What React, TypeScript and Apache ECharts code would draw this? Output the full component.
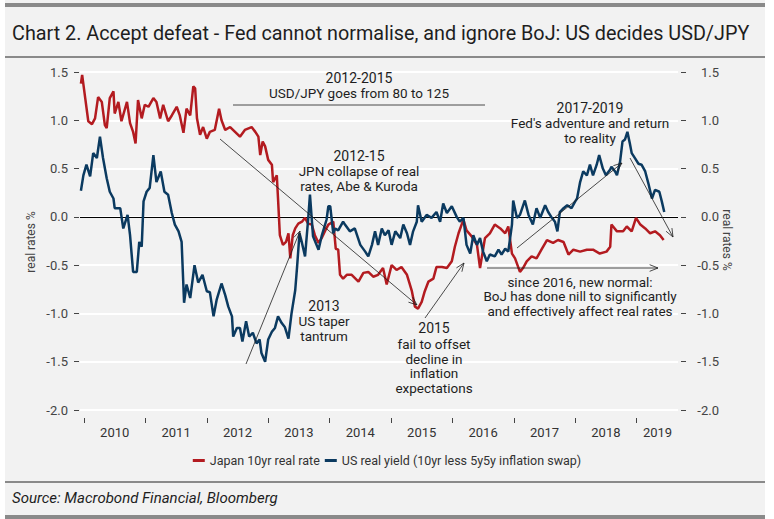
import React, { useEffect, useRef } from "react";
import * as echarts from "echarts";

// [decimal year, real rate %]
const japanRealRate: number[][] = [
  [2009.95,1.38],[2009.97,1.47],[2010.02,1.23],[2010.07,0.99],[2010.13,0.96],[2010.18,1.02],[2010.23,1.24],[2010.29,1.19],[2010.34,0.95],[2010.37,0.92],[2010.42,1.23],[2010.48,1.30],[2010.50,1.07],[2010.56,1.19],[2010.61,0.99],[2010.70,1.19],[2010.75,0.97],[2010.80,0.88],[2010.84,0.76],[2010.88,1.21],[2010.94,1.02],[2010.99,1.16],
  [2011.05,1.14],[2011.13,1.23],[2011.18,1.19],[2011.24,1.02],[2011.29,1.16],[2011.37,0.99],[2011.43,1.05],[2011.51,1.14],[2011.56,1.05],[2011.62,0.87],[2011.67,1.12],[2011.73,1.05],[2011.78,1.35],[2011.81,1.33],[2011.84,1.02],[2011.89,0.85],[2011.94,0.93],
  [2012.00,0.81],[2012.05,0.88],[2012.13,0.90],[2012.20,1.12],[2012.24,1.00],[2012.30,0.90],[2012.38,0.93],[2012.46,0.88],[2012.54,0.83],[2012.62,0.90],[2012.73,0.93],[2012.79,0.88],[2012.84,0.83],[2012.87,0.64],[2012.91,0.78],[2012.95,0.73],
  [2013.00,0.59],[2013.06,0.54],[2013.08,0.36],[2013.14,0.43],[2013.16,0.19],[2013.19,-0.19],[2013.24,-0.29],[2013.29,-0.26],[2013.33,-0.17],[2013.36,-0.43],[2013.40,-0.19],[2013.44,-0.12],[2013.49,-0.07],[2013.55,-0.05],[2013.60,-0.01],[2013.65,-0.07],[2013.71,-0.08],[2013.76,-0.19],[2013.82,-0.27],[2013.87,-0.22],[2013.93,-0.14],[2013.98,-0.08],
  [2014.06,-0.05],[2014.10,-0.33],[2014.14,-0.34],[2014.17,-0.60],[2014.22,-0.64],[2014.28,-0.60],[2014.36,-0.60],[2014.47,-0.67],[2014.55,-0.58],[2014.63,-0.57],[2014.71,-0.62],[2014.79,-0.60],[2014.87,-0.53],[2014.93,-0.70],
  [2015.01,-0.50],[2015.09,-0.55],[2015.17,-0.52],[2015.26,-0.60],[2015.34,-0.77],[2015.39,-0.93],[2015.44,-0.95],[2015.50,-0.88],[2015.55,-0.77],[2015.61,-0.67],[2015.69,-0.64],[2015.74,-0.52],[2015.83,-0.52],[2015.91,-0.53],[2015.99,-0.46],
  [2016.04,-0.31],[2016.10,-0.17],[2016.15,-0.08],[2016.18,-0.03],[2016.23,-0.14],[2016.31,-0.20],[2016.40,-0.29],[2016.45,-0.53],[2016.53,-0.22],[2016.61,-0.17],[2016.69,-0.08],[2016.78,-0.12],[2016.86,-0.17],[2016.91,-0.10],[2016.97,-0.38],
  [2017.02,-0.43],[2017.10,-0.57],[2017.15,-0.53],[2017.21,-0.46],[2017.29,-0.41],[2017.37,-0.43],[2017.45,-0.34],[2017.54,-0.24],[2017.64,-0.27],[2017.72,-0.24],[2017.81,-0.26],[2017.89,-0.39],[2017.97,-0.34],
  [2018.08,-0.36],[2018.19,-0.34],[2018.29,-0.34],[2018.40,-0.38],[2018.51,-0.36],[2018.57,-0.31],[2018.59,-0.08],[2018.68,-0.15],[2018.78,-0.15],[2018.84,-0.10],[2018.92,-0.15],[2018.99,-0.01],
  [2019.06,-0.08],[2019.14,-0.12],[2019.22,-0.17],[2019.30,-0.15],[2019.38,-0.19],[2019.44,-0.24],
];

const usRealYield: number[][] = [
  [2009.95,0.27],[2009.99,0.43],[2010.04,0.54],[2010.10,0.42],[2010.15,0.66],[2010.21,0.61],[2010.26,0.83],[2010.31,0.61],[2010.37,0.40],[2010.42,0.26],[2010.48,0.19],[2010.50,0.09],[2010.59,0.09],[2010.64,-0.12],[2010.71,0.02],[2010.75,-0.19],[2010.80,-0.57],[2010.86,-0.57],[2010.90,-0.26],[2010.94,-0.31],[2010.97,0.16],
  [2011.02,0.26],[2011.07,0.30],[2011.13,0.64],[2011.18,0.36],[2011.25,0.47],[2011.31,0.26],[2011.37,0.23],[2011.43,0.04],[2011.48,-0.08],[2011.54,-0.15],[2011.59,-0.26],[2011.63,-0.89],[2011.67,-0.70],[2011.73,-0.84],[2011.80,-0.50],[2011.86,-0.68],[2011.93,-0.60],
  [2012.00,-0.77],[2012.05,-0.78],[2012.11,-1.03],[2012.16,-0.86],[2012.24,-0.69],[2012.30,-0.81],[2012.35,-0.93],[2012.41,-1.03],[2012.43,-1.24],[2012.49,-1.15],[2012.54,-1.15],[2012.58,-1.29],[2012.64,-1.08],[2012.69,-1.24],[2012.75,-1.20],[2012.81,-1.31],[2012.86,-1.27],[2012.89,-1.41],[2012.95,-1.50],
  [2013.00,-1.27],[2013.06,-1.19],[2013.11,-1.15],[2013.16,-1.03],[2013.22,-1.10],[2013.27,-1.14],[2013.33,-1.26],[2013.38,-1.00],[2013.44,-0.76],[2013.47,-0.52],[2013.51,-0.17],[2013.55,-0.27],[2013.60,-0.41],[2013.65,-0.03],[2013.68,0.23],[2013.73,-0.20],[2013.82,-0.34],[2013.87,-0.20],[2013.95,-0.03],[2013.98,0.11],
  [2014.01,0.11],[2014.06,-0.17],[2014.09,-0.12],[2014.14,-0.14],[2014.22,-0.05],[2014.25,-0.08],[2014.33,-0.15],[2014.41,-0.12],[2014.50,-0.29],[2014.58,-0.36],[2014.63,-0.41],[2014.69,-0.29],[2014.74,-0.15],[2014.79,-0.29],[2014.85,-0.12],[2014.90,-0.19],[2014.96,-0.14],
  [2015.01,-0.29],[2015.07,-0.15],[2015.15,-0.22],[2015.20,-0.08],[2015.26,-0.17],[2015.31,-0.29],[2015.36,-0.15],[2015.42,-0.05],[2015.44,0.12],[2015.50,-0.05],[2015.58,0.02],[2015.66,-0.01],[2015.74,0.05],[2015.80,-0.05],[2015.85,0.14],[2015.91,0.04],[2015.99,0.11],
  [2016.07,0.00],[2016.12,-0.05],[2016.18,-0.01],[2016.23,-0.29],[2016.29,-0.38],[2016.34,-0.19],[2016.40,-0.29],[2016.45,-0.22],[2016.50,-0.36],[2016.56,-0.46],[2016.61,-0.39],[2016.69,-0.41],[2016.75,-0.34],[2016.80,-0.39],[2016.86,-0.33],[2016.91,-0.36],[2016.97,-0.08],[2016.99,0.17],
  [2017.05,-0.01],[2017.10,0.02],[2017.18,0.17],[2017.24,0.02],[2017.31,-0.08],[2017.37,0.09],[2017.43,-0.01],[2017.51,0.12],[2017.56,0.05],[2017.62,-0.01],[2017.67,-0.05],[2017.71,-0.15],[2017.75,0.05],[2017.81,0.09],[2017.87,0.12],[2017.94,0.09],
  [2018.00,0.16],[2018.03,0.19],[2018.08,0.36],[2018.13,0.47],[2018.19,0.43],[2018.24,0.54],[2018.29,0.43],[2018.35,0.54],[2018.39,0.64],[2018.45,0.50],[2018.50,0.43],[2018.57,0.49],[2018.59,0.52],[2018.65,0.47],[2018.68,0.43],[2018.73,0.57],[2018.77,0.78],[2018.81,0.80],[2018.85,0.88],[2018.89,0.76],[2018.92,0.66],[2018.97,0.61],
  [2019.03,0.55],[2019.08,0.54],[2019.14,0.47],[2019.19,0.35],[2019.25,0.19],[2019.30,0.28],[2019.37,0.26],[2019.41,0.16],[2019.45,0.05],
];

const firstYearTick = 2010;
const lastYearTick = 2019;
const yearLabelPositions = [2010.5, 2011.5, 2012.5, 2013.5, 2014.5, 2015.5, 2016.5, 2017.5, 2018.5, 2019.34];

const seriesNames = ["Japan 10yr real rate", "US real yield (10yr less 5y5y inflation swap)"];
const TITLE = "Chart 2. Accept defeat - Fed cannot normalise, and ignore BoJ: US decides USD/JPY";
const SOURCE = "Source: Macrobond Financial, Bloomberg";

const RED = "#b31b20";
const BLUE = "#0b3a60";
const FONT = "Roboto";
const INK = "#1e1e1e";
const BODY = 13.5;
const HEAD = 14;

// plot area (px)
const PLOT_LEFT = 80;
const PLOT_RIGHT = 678;
const PLOT_TOP = 72;
const PLOT_BOTTOM = 410;
const X_MIN = 2009.935;
const X_MAX = 2019.674;
const TICK_TOP = 418;
const TICK_BOTTOM = 423;

function txt(x: number, y: number, text: string, size = BODY, align = "center", extra: any = {}) {
  return {
    type: "text",
    x,
    y,
    silent: true,
    z: 20,
    style: {
      text,
      font: `${size}px ${FONT}`,
      fill: INK,
      textAlign: align,
      textVerticalAlign: "middle",
      ...extra,
    },
  };
}

function arrow(x1: number, y1: number, x2: number, y2: number, head = true) {
  const ang = Math.atan2(y2 - y1, x2 - x1);
  const L = 9;
  const a = 0.38;
  const out: any[] = [
    { type: "line", silent: true, z: 20, shape: { x1, y1, x2, y2 }, style: { stroke: "#1e1e1e", lineWidth: 0.8 } },
  ];
  if (head) {
    const p1 = [x2 - L * Math.cos(ang - a), y2 - L * Math.sin(ang - a)];
    const p2 = [x2 - L * Math.cos(ang + a), y2 - L * Math.sin(ang + a)];
    out.push({
      type: "polyline",
      silent: true,
      z: 20,
      shape: { points: [p1, [x2, y2], p2] },
      style: { stroke: "#1e1e1e", lineWidth: 0.8, fill: null },
    });
  }
  return out;
}

export default function App() {
  const ref = useRef<HTMLDivElement>(null);

  useEffect(() => {
    if (!ref.current) return;
    const chart = echarts.init(ref.current, undefined, { renderer: "svg" });
    const fmt = (v: number) => v.toFixed(1);

    // second (tick-only) grid spanning exactly Jan 2010 .. Jan 2019, just under the plot
    const pxPerYear = (PLOT_RIGHT - PLOT_LEFT) / (X_MAX - X_MIN);
    const tickGridLeft = PLOT_LEFT + (firstYearTick - X_MIN) * pxPerYear;
    const tickGridRight = PLOT_LEFT + (lastYearTick - X_MIN) * pxPerYear;

    const graphic: any[] = [
      // rules
      { type: "rect", silent: true, shape: { x: 5, y: 3, width: 760, height: 4 }, style: { fill: "#8a8a8a" } },
      { type: "rect", silent: true, shape: { x: 5, y: 56, width: 760, height: 2 }, style: { fill: "#8a8a8a" } },
      { type: "rect", silent: true, shape: { x: 5, y: 481, width: 760, height: 2 }, style: { fill: "#8a8a8a" } },
      { type: "rect", silent: true, shape: { x: 5, y: 515, width: 760, height: 4 }, style: { fill: "#8a8a8a" } },
      txt(12, 33, TITLE, 19.8, "left"),
      txt(12, 498, SOURCE, 15, "left", { font: `italic 15px ${FONT}` }),
      // axis names
      {
        type: "text", silent: true, x: 31, y: 242, rotation: Math.PI / 2,
        style: { text: "real rates %", font: `12px ${FONT}`, fill: "#444", textAlign: "center", textVerticalAlign: "middle" },
      },
      {
        type: "text", silent: true, x: 727, y: 240, rotation: -Math.PI / 2,
        style: { text: "real rates %", font: `12px ${FONT}`, fill: "#444", textAlign: "center", textVerticalAlign: "middle" },
      },
      // annotations
      txt(359, 78, "2012-2015", HEAD),
      txt(359, 93, "USD/JPY goes from 80 to 125"),
      ...arrow(233, 105, 485, 105, false),
      txt(359, 156, "2012-15", HEAD),
      txt(359, 171, "JPN collapse of real"),
      txt(359, 186, "rates, Abe & Kuroda"),
      ...arrow(220, 139, 417, 305),
      txt(324, 306, "2013", HEAD),
      txt(324, 321, "US taper"),
      txt(324, 336, "tantrum"),
      ...arrow(246, 364, 300, 231),
      txt(434, 328, "2015", HEAD),
      txt(434, 343.5, "fail to offset"),
      txt(434, 358.5, "decline in"),
      txt(434, 373, "inflation"),
      txt(434, 387.5, "expectations"),
      ...arrow(425, 318, 464, 263),
      txt(590, 108, "2017-2019", HEAD),
      txt(590, 123, "Fed's adventure and return"),
      txt(590, 138, "to reality"),
      ...arrow(517, 248, 622, 163),
      ...arrow(630, 158, 673, 237),
      ...arrow(487, 268, 658, 268),
      txt(580, 281.5, "since 2016, new normal:"),
      txt(580, 296, "BoJ has done nill to significantly"),
      txt(580, 310.5, "and effectively affect real rates"),
    ];

    const yCommon = {
      type: "value",
      min: -2,
      max: 1.5,
      interval: 0.5,
      axisLine: { show: false },
      axisTick: { show: true, length: 5, lineStyle: { color: "#444", width: 1 } },
    };

    const option: any = {
      animation: false,
      backgroundColor: "transparent",
      textStyle: { fontFamily: FONT },
      grid: [
        { left: PLOT_LEFT, right: 774 - PLOT_RIGHT, top: PLOT_TOP, bottom: 519 - PLOT_BOTTOM, containLabel: false },
        { left: tickGridLeft, right: 774 - tickGridRight, top: TICK_TOP, bottom: 519 - TICK_BOTTOM, containLabel: false },
      ],
      legend: {
        top: 449,
        left: "center",
        icon: "rect",
        itemWidth: 12,
        itemHeight: 3,
        itemGap: 5,
        textStyle: { fontSize: 12.5, color: "#333", fontFamily: FONT },
        data: seriesNames,
      },
      xAxis: [
        {
          type: "value",
          gridIndex: 0,
          min: X_MIN,
          max: X_MAX,
          offset: 8,
          axisLine: { show: false },
          axisTick: { show: false },
          axisLabel: {
            customValues: yearLabelPositions,
            formatter: (v: number) => String(Math.floor(v)),
            margin: 8,
            color: "#333",
            fontSize: 13,
            fontFamily: FONT,
          },
          splitLine: { show: false },
        },
        {
          // year tick marks: drawn as the split lines of a thin strip under the plot
          type: "value",
          gridIndex: 1,
          min: firstYearTick,
          max: lastYearTick,
          interval: 1,
          axisLine: { show: false },
          axisTick: { show: false },
          axisLabel: { show: false },
          splitLine: { show: true, lineStyle: { color: "#444", width: 1 } },
        },
      ],
      yAxis: [
        {
          ...yCommon,
          gridIndex: 0,
          position: "left",
          offset: 1,
          axisLabel: { formatter: fmt, margin: 11, color: "#444", fontSize: 13, fontFamily: FONT },
          splitLine: { show: true, lineStyle: { color: "#ffffff", width: 2 } },
        },
        {
          ...yCommon,
          gridIndex: 0,
          position: "right",
          offset: 3,
          axisLabel: { formatter: fmt, margin: 38, align: "right", color: "#444", fontSize: 13, fontFamily: FONT },
          splitLine: { show: false },
        },
        {
          type: "value",
          gridIndex: 1,
          min: 0,
          max: 1,
          axisLine: { show: false },
          axisTick: { show: false },
          axisLabel: { show: false },
          splitLine: { show: false },
        },
      ],
      series: [
        {
          name: seriesNames[0],
          type: "line",
          xAxisIndex: 0,
          yAxisIndex: 0,
          data: japanRealRate,
          showSymbol: false,
          symbol: "none",
          lineStyle: { color: RED, width: 2.5 },
          itemStyle: { color: RED },
          z: 3,
          markLine: {
            silent: true,
            symbol: ["none", "none"],
            label: { show: false },
            lineStyle: { color: "#000", width: 1, type: "solid" },
            data: [{ yAxis: 0 }],
            z: 2,
          },
        },
        {
          name: seriesNames[1],
          type: "line",
          xAxisIndex: 0,
          yAxisIndex: 0,
          data: usRealYield,
          showSymbol: false,
          symbol: "none",
          lineStyle: { color: BLUE, width: 2.5 },
          itemStyle: { color: BLUE },
          z: 4,
        },
      ],
      graphic,
    };

    chart.setOption(option);
    return () => chart.dispose();
  }, []);

  return (
    <div style={{ position: "absolute", left: 0, top: 0, width: 774, height: 519, background: "#ffffff" }}>
      <div style={{ position: "absolute", left: 5, top: 0, width: 760, height: 519, background: "#f2f2f2" }} />
      <div ref={ref} style={{ position: "absolute", left: 0, top: 0, width: 774, height: 519 }} />
    </div>
  );
}
